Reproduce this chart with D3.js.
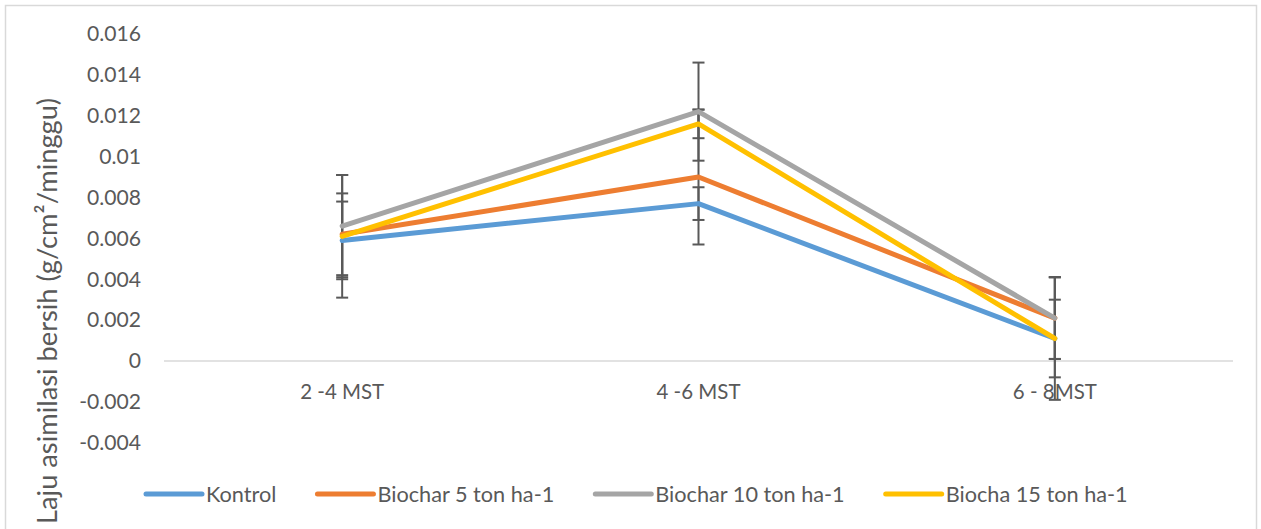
<!DOCTYPE html>
<html>
<head>
<meta charset="utf-8">
<script src="https://cdn.jsdelivr.net/npm/d3@7"></script>
<style>
  html, body { margin: 0; padding: 0; background: #ffffff; }
  svg { display: block; }
  text { font-family: Lato, "Open Sans", "Liberation Sans", sans-serif; fill: #595959; }
</style>
</head>
<body>
<svg id="chart" width="1261" height="529"></svg>
<script>
// ---- Data ----
const categories = ["2 -4 MST", "4 -6 MST", "6 - 8MST"];
const seriesNames = ["Kontrol", "Biochar 5 ton ha-1", "Biochar 10 ton ha-1", "Biocha 15 ton ha-1"];
const seriesColors = ["#5B9BD5", "#ED7D31", "#A5A5A5", "#FFC000"];
const kontrol = [0.0059, 0.0077, 0.0011];
const biochar5 = [0.0062, 0.0090, 0.0021];
const biochar10 = [0.0066, 0.0122, 0.0021];
const biocha15 = [0.0061, 0.0116, 0.0011];
const errKontrol = [0.0019, 0.0008, 0.0030];
const errBiochar5 = [0.0020, 0.0033, 0.0020];
const errBiochar10 = [0.0025, 0.0024, 0.0020];
const errBiocha15 = [0.0030, 0.0007, 0.0019];
const yTickValues = [-0.004, -0.002, 0, 0.002, 0.004, 0.006, 0.008, 0.01, 0.012, 0.014, 0.016];
const yTickLabels = ["-0.004", "-0.002", "0", "0.002", "0.004", "0.006", "0.008", "0.01", "0.012", "0.014", "0.016"];
const yTitle = "Laju asimilasi bersih (g/cm\u00B2/minggu)";

const seriesValues = [kontrol, biochar5, biochar10, biocha15];
const seriesErrors = [errKontrol, errBiochar5, errBiochar10, errBiocha15];

// ---- Layout ----
const svg = d3.select("#chart");
const plotLeft = 164, plotRight = 1233;
const y0 = 361, pxPerUnit = 20440; // 0 at y=361, 0.016 at y≈34

const x = d3.scaleBand().domain(categories).range([plotLeft, plotRight]);
const y = d3.scaleLinear().domain([-0.004, 0.016]).range([y0 + 0.004 * pxPerUnit, y0 - 0.016 * pxPerUnit]);
const cx = c => x(c) + x.bandwidth() / 2;

// helper: font size giving a target width
const measurer = svg.append("text").attr("x", -1000).attr("y", -1000);
function fitSize(str, target, base = 20) {
  measurer.attr("font-size", base).text(str);
  const w = measurer.node().getComputedTextLength();
  return w > 0 ? base * target / w : base;
}
const tickSize = fitSize("0.016", 54);
const catSize = fitSize("2 -4 MST", 84);
const legSize = fitSize("Biochar 5 ton ha-1", 177);
const titleSize = fitSize(yTitle, 426);
measurer.remove();

// chart border
svg.append("rect")
  .attr("x", 5.5).attr("y", 5.5).attr("width", 1251).attr("height", 540)
  .attr("fill", "none").attr("stroke", "#d9d9d9").attr("stroke-width", 1.5);

// zero line
svg.append("line")
  .attr("x1", plotLeft).attr("x2", plotRight)
  .attr("y1", y(0)).attr("y2", y(0))
  .attr("stroke", "#d9d9d9").attr("stroke-width", 1.5);

// y axis
const yAxis = svg.append("g")
  .attr("transform", `translate(${plotLeft},0)`)
  .call(d3.axisLeft(y).tickValues(yTickValues).tickSize(0).tickPadding(23)
    .tickFormat((d, i) => yTickLabels[i]));
yAxis.select(".domain").remove();
yAxis.selectAll("text").attr("font-size", tickSize).attr("fill", "#595959")
  .style("font-family", "Lato, 'Open Sans', sans-serif");

// x axis
const xAxis = svg.append("g")
  .attr("transform", `translate(0,${y(0)})`)
  .call(d3.axisBottom(x).tickSize(0));
xAxis.select(".domain").remove();
xAxis.selectAll("text").attr("y", 31).attr("dy", "0.35em")
  .attr("font-size", catSize).attr("fill", "#595959")
  .style("font-family", "Lato, 'Open Sans', sans-serif");

// y title
svg.append("text")
  .attr("transform", `translate(47,311) rotate(-90)`)
  .attr("text-anchor", "middle").attr("dy", "0.35em")
  .attr("font-size", titleSize)
  .text(yTitle);

// error bars (beneath lines)
const errG = svg.append("g").attr("stroke", "#595959").attr("stroke-width", 2);
seriesValues.forEach((vals, s) => {
  vals.forEach((v, i) => {
    const e = seriesErrors[s][i];
    const xc = cx(categories[i]);
    errG.append("line").attr("x1", xc).attr("x2", xc).attr("y1", y(v + e)).attr("y2", y(v - e));
    [v + e, v - e].forEach(t => {
      errG.append("line").attr("x1", xc - 6).attr("x2", xc + 6).attr("y1", y(t)).attr("y2", y(t));
    });
  });
});

// lines
const line = d3.line().x((d, i) => cx(categories[i])).y(d => y(d));
seriesValues.forEach((vals, s) => {
  svg.append("path")
    .attr("d", line(vals))
    .attr("fill", "none")
    .attr("stroke", seriesColors[s])
    .attr("stroke-width", 5)
    .attr("stroke-linejoin", "round")
    .attr("stroke-linecap", "round");
});

// legend
const legY = 494;
let lx = 146;
seriesNames.forEach((name, s) => {
  svg.append("line")
    .attr("x1", lx).attr("x2", lx + 56).attr("y1", legY).attr("y2", legY)
    .attr("stroke", seriesColors[s]).attr("stroke-width", 5).attr("stroke-linecap", "round");
  const t = svg.append("text")
    .attr("x", lx + 60).attr("y", legY).attr("dy", "0.35em")
    .attr("font-size", legSize).text(name);
  lx += 60 + t.node().getComputedTextLength() + 41;
});
</script>
</body>
</html>
